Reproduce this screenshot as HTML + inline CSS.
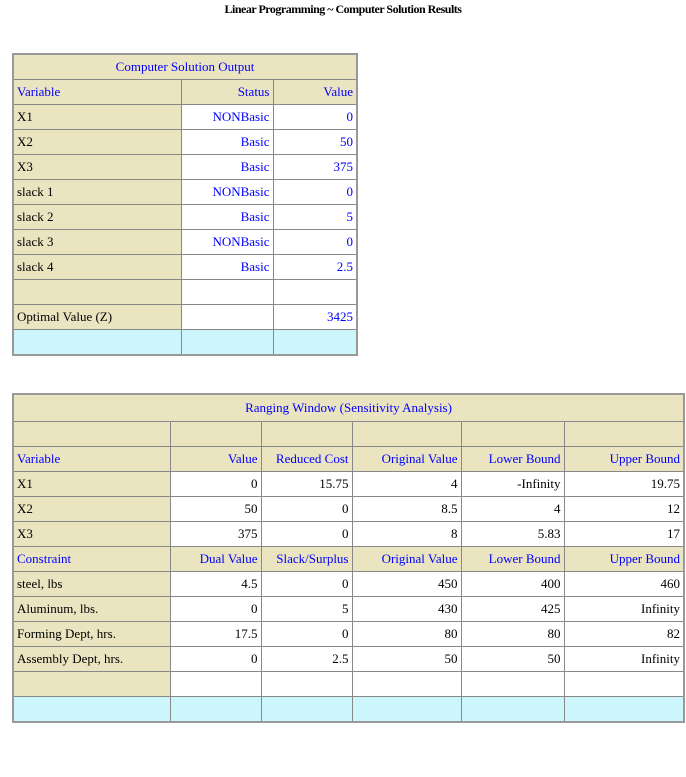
<!DOCTYPE html>
<html><head><meta charset="utf-8"><style>
body{margin:0;background:#fff;width:686px;height:777px;position:relative;font-family:"Liberation Serif",serif;font-size:13px;overflow:hidden}
h1{position:absolute;top:2px;left:0;width:686px;text-align:center;margin:0;font-size:12px;font-weight:bold;letter-spacing:-0.5px}
table{position:absolute;border-collapse:collapse;table-layout:fixed;border:2px solid #999}
td{border:1px solid #888;height:24px;padding:0 3px;white-space:nowrap;overflow:hidden;color:#00f;text-align:right}
td.t{background:#ebe4c0;text-align:left}
td.k{color:#000}
td.h{background:#ebe4c0}
td.c{background:#ccf6fb}
td.ct{text-align:center;background:#ebe4c0}
td.n{color:#000}
</style></head><body>
<h1>Linear Programming ~ Computer Solution Results</h1>
<table style="left:12px;top:53px;width:344px">
<colgroup><col style="width:168px"><col style="width:92px"><col style="width:84px"></colgroup>
<tr><td class="ct" colspan="3">Computer Solution Output</td></tr>
<tr><td class="t">Variable</td><td class="h">Status</td><td class="h">Value</td></tr>
<tr><td class="t k">X1</td><td>NONBasic</td><td>0</td></tr>
<tr><td class="t k">X2</td><td>Basic</td><td>50</td></tr>
<tr><td class="t k">X3</td><td>Basic</td><td>375</td></tr>
<tr><td class="t k">slack 1</td><td>NONBasic</td><td>0</td></tr>
<tr><td class="t k">slack 2</td><td>Basic</td><td>5</td></tr>
<tr><td class="t k">slack 3</td><td>NONBasic</td><td>0</td></tr>
<tr><td class="t k">slack 4</td><td>Basic</td><td>2.5</td></tr>
<tr><td class="t"></td><td></td><td></td></tr>
<tr><td class="t k">Optimal Value (Z)</td><td></td><td>3425</td></tr>
<tr><td class="c"></td><td class="c"></td><td class="c"></td></tr>
</table>
<table style="left:12px;top:393px;width:671px">
<colgroup><col style="width:157px"><col style="width:91px"><col style="width:91px"><col style="width:109px"><col style="width:103px"><col style="width:120px"></colgroup>
<tr><td class="ct" colspan="6" style="height:26px">Ranging Window (Sensitivity Analysis)</td></tr>
<tr><td class="h"></td><td class="h"></td><td class="h"></td><td class="h"></td><td class="h"></td><td class="h"></td></tr>
<tr><td class="t">Variable</td><td class="h">Value</td><td class="h">Reduced Cost</td><td class="h">Original Value</td><td class="h">Lower Bound</td><td class="h">Upper Bound</td></tr>
<tr><td class="t k">X1</td><td class="n">0</td><td class="n">15.75</td><td class="n">4</td><td class="n">-Infinity</td><td class="n">19.75</td></tr>
<tr><td class="t k">X2</td><td class="n">50</td><td class="n">0</td><td class="n">8.5</td><td class="n">4</td><td class="n">12</td></tr>
<tr><td class="t k">X3</td><td class="n">375</td><td class="n">0</td><td class="n">8</td><td class="n">5.83</td><td class="n">17</td></tr>
<tr><td class="t">Constraint</td><td class="h">Dual Value</td><td class="h">Slack/Surplus</td><td class="h">Original Value</td><td class="h">Lower Bound</td><td class="h">Upper Bound</td></tr>
<tr><td class="t k">steel, lbs</td><td class="n">4.5</td><td class="n">0</td><td class="n">450</td><td class="n">400</td><td class="n">460</td></tr>
<tr><td class="t k">Aluminum, lbs.</td><td class="n">0</td><td class="n">5</td><td class="n">430</td><td class="n">425</td><td class="n">Infinity</td></tr>
<tr><td class="t k">Forming Dept, hrs.</td><td class="n">17.5</td><td class="n">0</td><td class="n">80</td><td class="n">80</td><td class="n">82</td></tr>
<tr><td class="t k">Assembly Dept, hrs.</td><td class="n">0</td><td class="n">2.5</td><td class="n">50</td><td class="n">50</td><td class="n">Infinity</td></tr>
<tr><td class="t"></td><td></td><td></td><td></td><td></td><td></td></tr>
<tr><td class="c"></td><td class="c"></td><td class="c"></td><td class="c"></td><td class="c"></td><td class="c"></td></tr>
</table>
</body></html>
